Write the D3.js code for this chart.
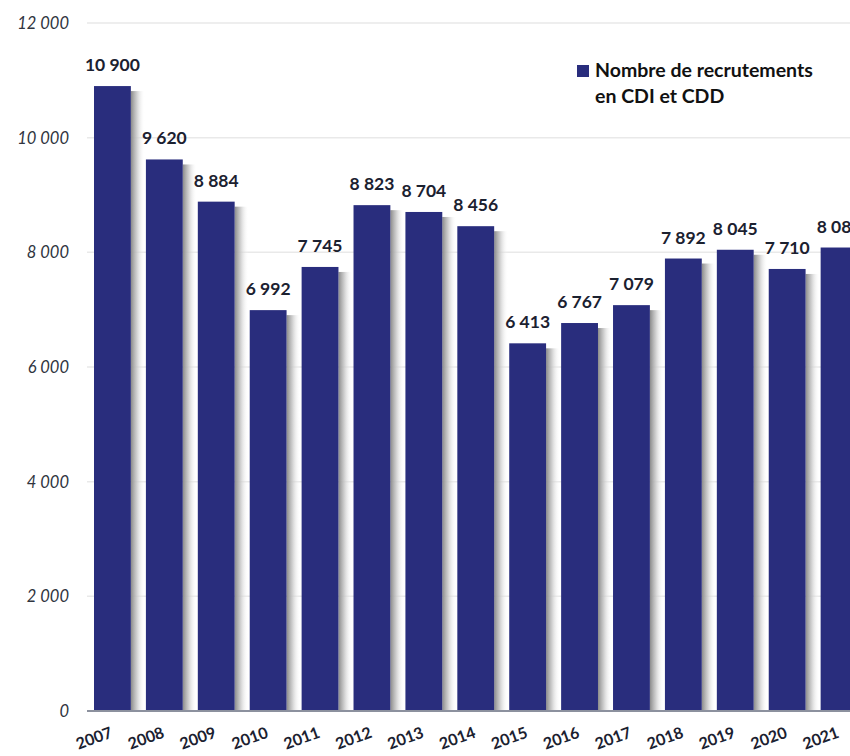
<!DOCTYPE html>
<html>
<head>
<meta charset="utf-8">
<script src="https://cdn.jsdelivr.net/npm/d3@7"></script>
<style>
  html, body { margin: 0; padding: 0; background: #fff; }
  svg { display: block; font-family: Lato, "Open Sans", sans-serif; }
</style>
</head>
<body>
<svg id="chart" width="850" height="756"></svg>
<script>
// Recrutements annuels en CDI et CDD
const years = ["2007","2008","2009","2010","2011","2012","2013","2014","2015","2016","2017","2018","2019","2020","2021"];
const recrutements = [10900, 9620, 8884, 6992, 7745, 8823, 8704, 8456, 6413, 6767, 7079, 7892, 8045, 7710, 8084];
const yTicks = [0, 2000, 4000, 6000, 8000, 10000, 12000];
const seriesName = ["Nombre de recrutements", "en CDI et CDD"];

const svg = d3.select("#chart");
const W = 850, H = 756;
const barColor = "#292d7d";
const fmt = v => d3.format(",")(v).replace(/,/g, " ");

const y = d3.scaleLinear().domain([0, 12000]).range([711, 23]);
const x = d3.scaleBand().domain(years).range([87, 864.5])
  .paddingInner(0.29).paddingOuter(0.135);

// soft shadow gradient to the right of each bar
const defs = svg.append("defs");
const g = defs.append("linearGradient").attr("id", "shade").attr("x1", 0).attr("x2", 1);
g.append("stop").attr("offset", 0).attr("stop-color", "#8a8a8a").attr("stop-opacity", 1);
g.append("stop").attr("offset", 0.4).attr("stop-color", "#c4c4c4").attr("stop-opacity", 0.85);
g.append("stop").attr("offset", 1).attr("stop-color", "#ffffff").attr("stop-opacity", 0);

// gridlines
svg.append("g").selectAll("line").data(yTicks.filter(d => d > 0)).join("line")
  .attr("x1", 87).attr("x2", W)
  .attr("y1", d => y(d)).attr("y2", d => y(d))
  .attr("stroke", "#e9e9e9").attr("stroke-width", 1.5);

// y tick labels
svg.append("g").selectAll("text").data(yTicks).join("text")
  .attr("x", 69).attr("y", d => y(d) + 6)
  .attr("text-anchor", "end")
  .attr("font-size", 16.5).attr("font-style", "italic")
  .attr("fill", "#2f3440")
  .text(d => fmt(d));

const data = years.map((yr, i) => ({ yr, v: recrutements[i] }));

// shadows
svg.append("g").selectAll("rect").data(data).join("rect")
  .attr("x", d => x(d.yr) + x.bandwidth())
  .attr("y", d => y(d.v) + 5)
  .attr("width", 14)
  .attr("height", d => y(0) - y(d.v) - 5)
  .attr("fill", "url(#shade)");

// bars
svg.append("g").selectAll("rect").data(data).join("rect")
  .attr("x", d => x(d.yr))
  .attr("y", d => y(d.v))
  .attr("width", x.bandwidth())
  .attr("height", d => y(0) - y(d.v))
  .attr("fill", barColor);

// baseline
svg.append("line")
  .attr("x1", 87).attr("x2", W)
  .attr("y1", y(0)).attr("y2", y(0))
  .attr("stroke", "#8c919e").attr("stroke-width", 2);

// value labels
svg.append("g").selectAll("text").data(data).join("text")
  .attr("x", d => x(d.yr) + x.bandwidth() / 2)
  .attr("y", d => y(d.v) - 15)
  .attr("text-anchor", "middle")
  .attr("font-size", 17.5).attr("font-weight", 700)
  .attr("fill", "#1b2130")
  .text(d => fmt(d.v));

// year labels
svg.append("g").selectAll("text").data(years).join("text")
  .attr("transform", d => `translate(${x(d) + x.bandwidth() / 2 + 1},737) rotate(-20)`)
  .attr("text-anchor", "end")
  .attr("font-size", 16).attr("font-weight", 700)
  .attr("fill", "#1b2130")
  .text(d => d);

// legend
const lg = svg.append("g").attr("transform", "translate(577,65)");
lg.append("rect").attr("width", 12).attr("height", 12).attr("fill", barColor);
lg.selectAll("text").data(seriesName).join("text")
  .attr("x", 18).attr("y", (d, i) => 12 + i * 26)
  .attr("font-size", 19.5).attr("font-weight", 700)
  .attr("fill", "#111")
  .text(d => d);
</script>
</body>
</html>
